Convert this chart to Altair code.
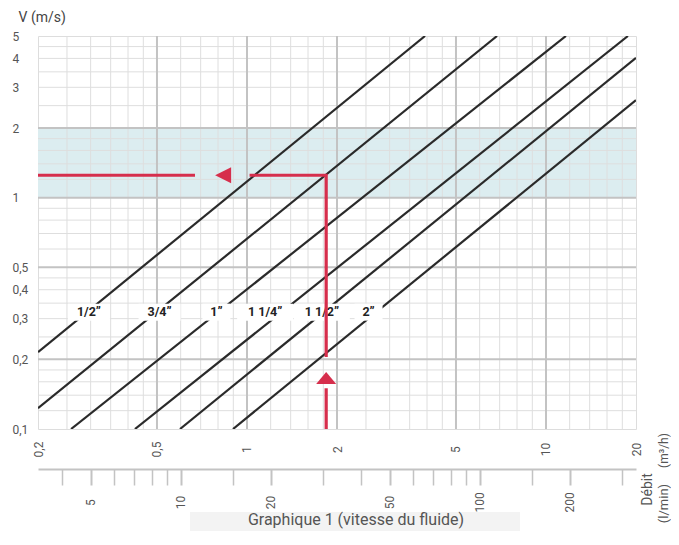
import altair as alt
import pandas as pd

# ---------------- data ----------------
Q_MIN, Q_MAX = 0.2, 20      # m3/h
V_MIN, V_MAX = 0.1, 5       # m/s

PIPES = ["1/2”", "3/4”", "1”", "1 1/4”", "1 1/2”", "2”"]
Q_START = [0.2, 0.2, 0.258, 0.422, 0.597, 0.898]
V_START = [0.215, 0.123, 0.1, 0.1, 0.1, 0.1]
Q_END = [3.94, 6.86, 11.66, 18.8, 20, 20]
V_END = [5, 5, 5, 5, 4.02, 2.64]
LABEL_Q = [0.296, 0.51, 0.79, 1.15, 1.78, 2.55]
LABEL_V = 0.32

X_LABELS = [0.2, 0.5, 1, 2, 5, 10, 20]
Y_LABELS = [0.1, 0.2, 0.3, 0.4, 0.5, 1, 2, 3, 4, 5]
X_MAJOR = [0.5, 1, 2, 5, 10]
X_MINOR = [0.25, 0.3, 0.35, 0.4, 0.45, 0.6, 0.7, 0.8, 0.9, 1.2, 1.4, 1.6, 1.8,
           2.5, 3, 3.5, 4, 4.5, 6, 7, 8, 9, 12, 14, 16, 18]
Y_MAJOR = [0.2, 0.5, 1, 2]
Y_MINOR = [0.12, 0.14, 0.16, 0.18, 0.25, 0.3, 0.35, 0.4, 0.45, 0.6, 0.7, 0.8, 0.9,
           1.2, 1.4, 1.6, 1.8, 2.5, 3, 3.5, 4, 4.5]
BAND_LOW, BAND_HIGH = 1, 2

LMIN_MAJOR = [5, 10, 20, 50, 100, 200]
LMIN_MINOR = [4, 6, 7, 8, 9, 15, 30, 40, 60, 70, 80, 90, 150, 300]
M3H_PER_LMIN = 0.06

# example reading (red path): three segments
EX_Q = 1.84
EX_V = 1.25
RED_SEG = [0, 0, 1, 1, 1, 2, 2]
RED_Q = [0.2, 0.67, 1.02, EX_Q, EX_Q, EX_Q, EX_Q]
RED_V = [EX_V, EX_V, EX_V, EX_V, 0.205, 0.15, 0.1]
ARROW_Q = [0.832, EX_Q]
ARROW_V = [EX_V, 0.166]
ARROW_DIR = ["left", "up"]

TITLE = "Graphique 1 (vitesse du fluide)"

# ---------------- styles ----------------
RED = "#d62e4c"
LINE = "#2a2a2a"
MAJ = "#c3c3c3"
MIN = "#dedede"
TXT = "#555555"
FONT = "Roboto"
LMIN_OFFSET = 40

xs = alt.Scale(type="log", domain=[Q_MIN, Q_MAX], nice=False)
ys = alt.Scale(type="log", domain=[V_MIN, V_MAX], nice=False)

# ---------------- frames ----------------
band_df = pd.DataFrame({"x": [Q_MIN], "x2": [Q_MAX], "y": [BAND_LOW], "y2": [BAND_HIGH]})
band = alt.Chart(band_df).mark_rect(color="#dcedf0").encode(
    x=alt.X("x:Q", scale=xs, axis=None), x2="x2:Q",
    y=alt.Y("y:Q", scale=ys, axis=None), y2="y2:Q")

def vrules(vals, color, w):
    return alt.Chart(pd.DataFrame({"q": vals})).mark_rule(color=color, strokeWidth=w).encode(
        x=alt.X("q:Q", scale=xs, axis=None))

def hrules(vals, color, w):
    return alt.Chart(pd.DataFrame({"v": vals})).mark_rule(color=color, strokeWidth=w).encode(
        y=alt.Y("v:Q", scale=ys, axis=None))

grid = [vrules(X_MINOR, MIN, 1), hrules(Y_MINOR, MIN, 1),
        vrules(X_MAJOR, MAJ, 2), hrules(Y_MAJOR, MAJ, 2)]

rows = []
for p, qa, va, qb, vb in zip(PIPES, Q_START, V_START, Q_END, V_END):
    rows.append({"pipe": p, "q": qa, "v": va})
    rows.append({"pipe": p, "q": qb, "v": vb})
pipes_df = pd.DataFrame(rows)

pipes = alt.Chart(pipes_df).mark_line(color=LINE, strokeWidth=2.2, clip=True).encode(
    x=alt.X("q:Q", scale=xs, axis=alt.Axis(
        orient="bottom", values=X_LABELS, labelExpr="replace(toString(datum.value), '.', ',')",
        labelAngle=270, labelAlign="center", labelBaseline="middle",
        ticks=False, domain=False, grid=False, labelPadding=20,
        labelFont=FONT, labelFontSize=12, labelColor=TXT,
        title="(m³/h)", titleAngle=270, titleX=625, titleY=21, titleAlign="center",
        titleBaseline="middle", titleFont=FONT, titleFontSize=12, titleFontWeight="normal",
        titleColor=TXT)),
    y=alt.Y("v:Q", scale=ys, axis=alt.Axis(
        orient="left", values=Y_LABELS, labelExpr="replace(toString(datum.value), '.', ',')",
        ticks=False, domain=False, grid=False, labelAlign="left", labelPadding=26,
        labelFont=FONT, labelFontSize=12, labelColor=TXT,
        title="V (m/s)", titleAngle=0, titleX=-20, titleY=-19, titleAlign="left",
        titleBaseline="middle", titleFont=FONT, titleFontSize=14, titleFontWeight="normal",
        titleColor="#444444")),
    detail="pipe:N")

# white boxes behind pipe labels
BOX_UNIT = 30.0
def box_path(label):
    hw = (7 * len(label) + 14) / 2 / BOX_UNIT
    hh = 8.5 / BOX_UNIT
    return f"M{-hw},{-hh}L{hw},{-hh}L{hw},{hh}L{-hw},{hh}Z"

lab_df = pd.DataFrame({"pipe": PIPES, "q": LABEL_Q, "v": [LABEL_V] * len(PIPES)})
lab_df["shape"] = [box_path(p) for p in PIPES]
boxes = alt.Chart(lab_df).mark_point(filled=True, color="white", opacity=1, size=(2 * BOX_UNIT) ** 2,
                                     strokeWidth=0).encode(
    x=alt.X("q:Q", scale=xs, axis=None), y=alt.Y("v:Q", scale=ys, axis=None),
    shape=alt.Shape("shape:N", scale=None))
labels = alt.Chart(lab_df).mark_text(font=FONT, fontSize=12.5, fontWeight="bold", color="#222222").encode(
    x=alt.X("q:Q", scale=xs, axis=None), y=alt.Y("v:Q", scale=ys, axis=None), text="pipe:N")

# red reading path
red_df = pd.DataFrame({"seg": RED_SEG, "q": RED_Q, "v": RED_V, "o": list(range(len(RED_Q)))})
red = alt.Chart(red_df).mark_line(color=RED, strokeWidth=3.2, strokeCap="butt", strokeJoin="miter").encode(
    x=alt.X("q:Q", scale=xs, axis=None), y=alt.Y("v:Q", scale=ys, axis=None),
    detail="seg:N", order="o:Q")

ARROW_SHAPES = {"left": "M-0.8,0L0.8,-0.8L0.8,0.8Z", "up": "M0,-0.6L1,0.6L-1,0.6Z"}
arr_df = pd.DataFrame({"q": ARROW_Q, "v": ARROW_V, "shape": [ARROW_SHAPES[d] for d in ARROW_DIR]})
arrows = alt.Chart(arr_df).mark_point(filled=True, color=RED, opacity=1, size=400, strokeWidth=0).encode(
    x=alt.X("q:Q", scale=xs, axis=None), y=alt.Y("v:Q", scale=ys, axis=None),
    shape=alt.Shape("shape:N", scale=None))

# l/min axis (second scale under the chart, same positions)
lmaj_df = pd.DataFrame({"q": [l * M3H_PER_LMIN for l in LMIN_MAJOR]})
lmin_df = pd.DataFrame({"q": [l * M3H_PER_LMIN for l in LMIN_MINOR]})
lmaj = alt.Chart(lmaj_df).mark_point(opacity=0).encode(
    x=alt.X("q:Q", scale=xs, axis=alt.Axis(
        orient="bottom", offset=LMIN_OFFSET, values=list(lmaj_df["q"]),
        labelExpr="toString(round(datum.value / 0.06))", labelAngle=270,
        labelAlign="center", labelBaseline="middle", tickSize=16,
        tickColor=MAJ, tickWidth=2, domainColor=MAJ, domainWidth=2, labelPadding=17, grid=False,
        labelFont=FONT, labelFontSize=12, labelColor=TXT, labelOverlap=False,
        title="(l/min)", titleAngle=270, titleX=625, titleY=34, titleAlign="center",
        titleBaseline="middle", titleFont=FONT, titleFontSize=13, titleFontWeight="normal",
        titleColor=TXT)))
lmin = alt.Chart(lmin_df).mark_point(opacity=0).encode(
    x=alt.X("q:Q", scale=xs, axis=alt.Axis(
        orient="bottom", offset=LMIN_OFFSET, values=list(lmin_df["q"]), labels=False, domain=False,
        tickSize=16, tickColor=MAJ, tickWidth=1.5, grid=False,
        title="Débit", titleAngle=270, titleX=609, titleY=20, titleAlign="center",
        titleBaseline="middle", titleFont=FONT, titleFontSize=14, titleFontWeight="normal",
        titleColor=TXT)))

# caption
one = pd.DataFrame({"t": [TITLE]})
cap_box = alt.Chart(one).mark_rect(color="#f3f3f3").encode(
    x=alt.value(152), x2=alt.value(482), y=alt.value(476), y2=alt.value(495))
cap = alt.Chart(one).mark_text(font=FONT, fontSize=16, color="#555555", baseline="middle").encode(
    x=alt.value(318), y=alt.value(484), text="t:N")

chart = alt.layer(band, *grid, pipes, boxes, labels, red, arrows, cap_box, cap, lmaj, lmin
).resolve_axis(x="independent", y="independent").properties(
    width=598, height=393, autosize="none",
    padding={"left": 30, "top": 28, "right": 35, "bottom": 102},
).configure_view(stroke="#c2c2c2", strokeWidth=3).configure(background="white")

chart.save("out.html", embed_options={"renderer": "svg", "actions": False})
